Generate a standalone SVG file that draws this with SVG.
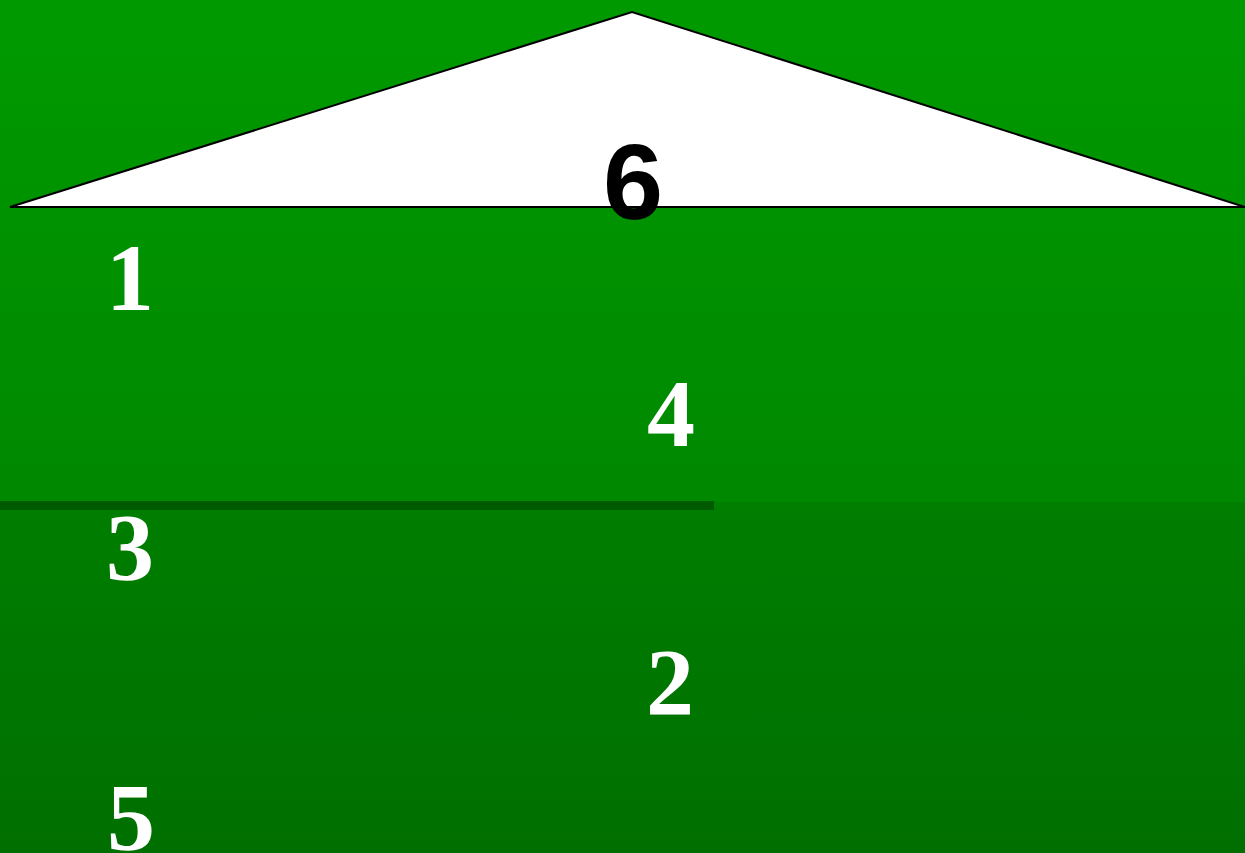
<svg xmlns="http://www.w3.org/2000/svg" width="1245" height="853" viewBox="0 0 1245 853">
<defs>
<linearGradient id="gTop" x1="0" y1="0" x2="0" y2="1">
<stop offset="0" stop-color="#009A00"/>
<stop offset="1" stop-color="#008800"/>
</linearGradient>
<linearGradient id="gBot" x1="0" y1="0" x2="0" y2="1">
<stop offset="0" stop-color="#007E00"/>
<stop offset="1" stop-color="#006F00"/>
</linearGradient>
<style>
.num{font-family:"Liberation Serif",serif;font-weight:bold;font-size:96px;fill:#ffffff}
.six{font-family:"Liberation Sans",sans-serif;font-weight:bold;font-size:108px;fill:#000000}
</style>
</defs>
<rect x="0" y="0" width="1245" height="502" fill="url(#gTop)"/>
<rect x="0" y="502" width="1245" height="351" fill="url(#gBot)"/>
<rect x="0" y="501" width="714" height="9" fill="#005A00"/>
<g id="roof">
<polygon points="10,207 632,12 1245,207" fill="#ffffff" stroke="#000000" stroke-width="2"/>
</g>
<g id="connectors"></g>
<g id="n6"><text class="six" x="603" y="219">6</text></g>
<g id="n1"><text class="num" x="106" y="310">1</text></g>
<g id="n4"><text class="num" x="647" y="446">4</text></g>
<g id="n3"><text class="num" x="106" y="580">3</text></g>
<g id="n2"><text class="num" x="646" y="715">2</text></g>
<g id="n5"><text class="num" x="107" y="850">5</text></g>
</svg>
